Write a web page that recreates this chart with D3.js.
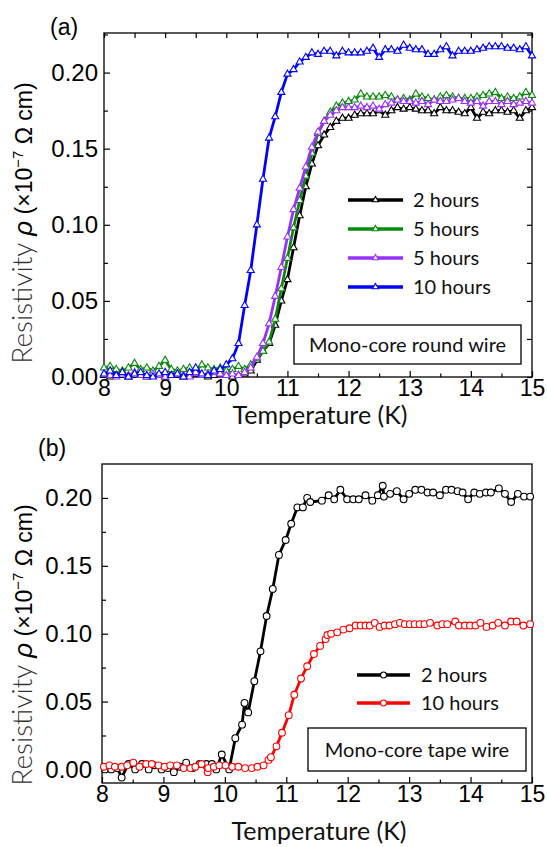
<!DOCTYPE html>
<html><head><meta charset="utf-8">
<script src="https://cdn.jsdelivr.net/npm/d3@7"></script>
<style>body{margin:0;background:#fff}</style>
</head><body><svg id="c" width="547" height="847"></svg>
<script>
// ---------- DATA ----------
const tempsA = [8.0,8.1,8.2,8.3,8.4,8.5,8.6,8.7,8.8,8.9,9.0,9.1,9.2,9.3,9.4,9.5,9.6,9.7,9.8,9.9,
  10.0,10.1,10.2,10.3,10.4,10.5,10.6,10.7,10.8,10.9,11.0,11.1,11.2,11.3,11.4,11.5,11.6,11.7,11.8,11.9,
  12.0,12.1,12.2,12.3,12.4,12.5,12.6,12.7,12.8,12.9,13.0,13.1,13.2,13.3,13.4,13.5,13.6,13.7,13.8,13.9,
  14.0,14.1,14.2,14.3,14.4,14.5,14.6,14.7,14.8,14.9,15.0];
const rhoA_2h = [0.001,0.000,0.002,0.001,0.000,0.001,0.002,0.000,0.001,0.001,0.000,0.002,0.001,0.000,0.001,0.002,0.001,0.000,0.001,0.002,
  0.001,0.000,0.001,0.002,0.004,0.011,0.017,0.022,0.034,0.050,0.064,0.085,0.106,0.125,0.140,0.152,0.159,0.164,0.168,0.170,
  0.170,0.172,0.173,0.173,0.173,0.175,0.172,0.175,0.177,0.176,0.177,0.176,0.175,0.175,0.173,0.177,0.175,0.175,0.174,0.173,
  0.177,0.170,0.174,0.173,0.175,0.175,0.174,0.175,0.170,0.175,0.177];
const rhoA_5hG = [0.006,0.007,0.005,0.004,0.006,0.009,0.005,0.006,0.004,0.007,0.011,0.005,0.004,0.005,0.006,0.004,0.008,0.006,0.005,0.006,
  0.004,0.005,0.007,0.005,0.008,0.012,0.017,0.023,0.038,0.058,0.078,0.098,0.116,0.132,0.147,0.160,0.168,0.174,0.178,0.180,
  0.181,0.182,0.186,0.184,0.184,0.184,0.185,0.184,0.182,0.183,0.182,0.186,0.184,0.183,0.182,0.184,0.185,0.184,0.183,0.183,
  0.183,0.184,0.185,0.186,0.187,0.183,0.184,0.183,0.184,0.187,0.185];
const rhoA_5hP = [0.002,0.001,0.000,0.002,0.001,0.003,0.001,0.000,0.002,0.001,0.000,0.001,0.002,0.001,0.000,0.003,0.001,0.002,0.003,0.002,
  0.001,0.002,0.001,0.003,0.006,0.013,0.022,0.035,0.053,0.072,0.092,0.110,0.124,0.138,0.151,0.161,0.168,0.172,0.175,0.177,
  0.177,0.177,0.178,0.177,0.178,0.176,0.179,0.180,0.182,0.181,0.181,0.180,0.181,0.179,0.182,0.181,0.181,0.182,0.183,0.181,
  0.180,0.181,0.178,0.181,0.181,0.179,0.181,0.179,0.180,0.181,0.180];
const rhoA_10h = [0.002,0.004,0.001,0.003,0.000,0.002,0.003,0.001,0.000,0.002,0.003,0.001,0.002,0.000,0.003,0.006,0.002,0.001,0.004,0.005,
  0.008,0.012,0.022,0.047,0.070,0.100,0.130,0.157,0.171,0.187,0.199,0.202,0.207,0.210,0.213,0.212,0.214,0.214,0.211,0.214,
  0.213,0.213,0.213,0.214,0.216,0.210,0.215,0.215,0.214,0.218,0.216,0.215,0.215,0.212,0.212,0.215,0.217,0.211,0.214,0.214,
  0.214,0.215,0.216,0.217,0.217,0.217,0.216,0.216,0.215,0.217,0.211];

const tempsB_2h = [8.05,8.15,8.25,8.32,8.43,8.54,8.65,8.76,8.86,8.97,
  9.07,9.17,9.27,9.37,9.48,9.59,9.70,9.79,9.86,9.95,
  10.07,10.17,10.28,10.32,10.38,10.48,10.58,10.68,10.78,10.88,10.99,
  11.08,11.18,11.27,11.34,11.39,11.58,11.69,11.78,11.88,11.99,
  12.09,12.18,12.29,12.40,12.49,12.57,12.59,12.69,12.80,12.91,
  13.00,13.10,13.20,13.30,13.39,13.50,13.60,13.69,13.79,13.87,13.96,
  14.06,14.15,14.25,14.33,14.46,14.56,14.66,14.77,14.87,14.97];
const rhoB_2h = [0.000,0.000,0.001,-0.006,0.004,0.000,0.004,0.000,0.003,0.000,
  0.001,-0.002,0.002,0.005,0.001,0.004,0.004,0.004,0.000,0.011,
  0.000,0.023,0.033,0.049,0.042,0.065,0.087,0.113,0.133,0.158,0.169,
  0.181,0.193,0.193,0.200,0.197,0.198,0.202,0.199,0.206,0.199,
  0.199,0.199,0.202,0.198,0.202,0.209,0.201,0.203,0.205,0.199,
  0.203,0.206,0.206,0.204,0.204,0.202,0.206,0.206,0.205,0.204,0.199,
  0.204,0.203,0.204,0.204,0.207,0.203,0.197,0.203,0.201,0.201];
const tempsB_10h = [8.03,8.12,8.21,8.32,8.41,8.51,8.61,8.72,8.81,8.92,
  9.02,9.11,9.22,9.33,9.44,9.52,9.62,9.72,9.73,9.82,9.91,
  10.01,10.12,10.22,10.33,10.44,10.53,10.63,10.71,10.75,10.84,10.93,
  11.04,11.13,11.24,11.34,11.45,11.55,11.64,11.67,11.73,11.83,11.93,
  12.03,12.13,12.21,12.29,12.36,12.44,12.52,12.60,12.68,12.77,12.85,12.93,
  13.01,13.09,13.17,13.25,13.34,13.46,13.54,13.62,13.75,13.81,13.91,13.99,
  14.08,14.16,14.26,14.36,14.45,14.56,14.66,14.75,14.86,14.97];
const rhoB_10h = [0.002,0.003,0.002,0.002,0.003,0.005,0.002,0.004,0.004,0.003,
  0.002,0.003,0.003,0.001,0.001,0.002,0.004,-0.002,0.001,0.002,0.003,
  0.003,0.002,0.002,0.001,0.001,0.002,0.003,0.007,0.009,0.017,0.027,
  0.040,0.055,0.067,0.076,0.085,0.091,0.096,0.099,0.100,0.101,0.103,
  0.104,0.106,0.106,0.106,0.106,0.108,0.105,0.106,0.106,0.107,0.108,0.107,
  0.107,0.107,0.107,0.107,0.108,0.106,0.107,0.107,0.109,0.106,0.106,0.106,
  0.106,0.108,0.105,0.106,0.108,0.106,0.109,0.109,0.106,0.107];

const legendA = ["2 hours","5 hours","5 hours","10 hours"];
const legendB = ["2 hours","10 hours"];
const xTickVals = [8,9,10,11,12,13,14,15];
const xMinorVals = [8.5,9.5,10.5,11.5,12.5,13.5,14.5];
const yTickVals = [0,0.05,0.10,0.15,0.20];
const yMinorVals = [0.025,0.075,0.125,0.175,0.225];
const yMinorValsB = [0.025,0.075,0.125,0.175];
const panelTags = ["(a)","(b)"];
const boxTexts = ["Mono-core round wire","Mono-core tape wire"];
const xTitle = "Temperature (K)";

// ---------- DRAW ----------
const svg = d3.select("#c");
const NUMF = "'Liberation Sans', Arial, sans-serif";
const TXTF = "Lato, 'Open Sans', sans-serif";
const fmt = d3.format(".2f");

function drawPanel(o) {
  const x = d3.scaleLinear().domain([8,15]).range([o.left,o.right]);
  const y = d3.scaleLinear().domain(o.ydom).range([o.bottom,o.top]);
  const g = svg.append("g");

  const styleAxis = (sel) => {
    sel.select(".domain").remove();
    sel.selectAll("line").attr("stroke","#000").attr("stroke-width",1.2);
    sel.selectAll("text").attr("font-family",NUMF).attr("font-size",23).attr("fill","#000");
  };
  // bottom
  g.append("g").attr("transform",`translate(0,${o.bottom})`)
    .call(d3.axisBottom(x).tickValues(xTickVals).tickSize(-6).tickPadding(3).tickFormat(d3.format("d"))).call(styleAxis);
  g.append("g").attr("transform",`translate(0,${o.bottom})`)
    .call(d3.axisBottom(x).tickValues(xMinorVals).tickSize(-3.5).tickFormat("")).call(styleAxis);
  // left
  g.append("g").attr("transform",`translate(${o.left},0)`)
    .call(d3.axisLeft(y).tickValues(yTickVals).tickSize(-6).tickPadding(o.ypad).tickFormat(fmt)).call(styleAxis)
    .selectAll("text").attr("font-size",24);
  g.append("g").attr("transform",`translate(${o.left},0)`)
    .call(d3.axisLeft(y).tickValues(o.yMinor).tickSize(-4).tickFormat("")).call(styleAxis);
  if (o.mirror) {
    g.append("g").attr("transform",`translate(0,${o.top})`)
      .call(d3.axisTop(x).tickValues(xTickVals.concat(xMinorVals)).tickSize(-5).tickFormat("")).call(styleAxis);
    g.append("g").attr("transform",`translate(${o.right},0)`)
      .call(d3.axisRight(y).tickValues(yTickVals.concat(o.yMinor)).tickSize(-5).tickFormat("")).call(styleAxis);
  }
  // frame
  g.append("rect").attr("x",o.left).attr("y",o.top).attr("width",o.right-o.left).attr("height",o.bottom-o.top)
    .attr("fill","none").attr("stroke","#000").attr("stroke-width",1.3);

  // series
  const line = d3.line().x(d=>x(d[0])).y(d=>y(d[1]));
  o.series.forEach(s => {
    const pts = s.t.map((t,i)=>[t,s.v[i]]);
    g.append("path").datum(pts).attr("d",line).attr("fill","none")
      .attr("stroke",s.color).attr("stroke-width",2.8).attr("stroke-linejoin","round");
    const sym = d3.symbol().type(o.symbol).size(o.symSize);
    g.append("g").selectAll("path").data(pts).join("path")
      .attr("transform",d=>`translate(${x(d[0])},${y(d[1])})`)
      .attr("d",sym).attr("fill","#fff").attr("stroke",s.color).attr("stroke-width",1.1);
  });

  // legend
  o.series.forEach((s,i) => {
    const ly = o.leg.y + i*o.leg.dy;
    g.append("line").attr("x1",o.leg.x1).attr("x2",o.leg.x2).attr("y1",ly).attr("y2",ly)
      .attr("stroke",s.color).attr("stroke-width",3.5);
    g.append("path").attr("transform",`translate(${(o.leg.x1+o.leg.x2)/2},${ly})`)
      .attr("d",d3.symbol().type(o.symbol).size(o.symSize*0.75)).attr("fill","#fff").attr("stroke",s.color).attr("stroke-width",1.1);
    g.append("text").attr("x",o.leg.tx).attr("y",ly+7).text(s.name)
      .attr("font-family",TXTF).attr("font-size",20).attr("fill","#111");
  });

  // annotation box
  g.append("rect").attr("x",o.box[0]).attr("y",o.box[1]).attr("width",o.box[2]-o.box[0]).attr("height",o.box[3]-o.box[1])
    .attr("fill","#fff").attr("stroke","#000").attr("stroke-width",1.3);
  g.append("text").attr("x",(o.box[0]+o.box[2])/2).attr("y",(o.box[1]+o.box[3])/2+7).attr("text-anchor","middle")
    .text(o.boxText).attr("font-family",TXTF).attr("font-size",20).attr("fill","#111");

  // panel tag
  g.append("text").attr("x",o.tag[0]).attr("y",o.tag[1]).text(o.tagText)
    .attr("font-family",NUMF).attr("font-size",23).attr("fill","#000");

  // x title
  g.append("text").attr("x",(o.left+o.right)/2+2).attr("y",o.xtY).attr("text-anchor","middle").text(xTitle)
    .attr("font-family",TXTF).attr("font-size",25).attr("fill","#111");

  // y title
  const yt = g.append("text").attr("transform",`translate(${o.ytX},${o.ytY}) rotate(-90)`).attr("text-anchor","middle");
  yt.append("tspan").text("Resistivity ").attr("font-family",TXTF).attr("font-weight",300).attr("font-size",28).attr("fill","#333");
  yt.append("tspan").text("ρ").attr("font-family",NUMF).attr("font-style","italic").attr("font-size",26).attr("fill","#000");
  yt.append("tspan").text(" (×10").attr("font-family",NUMF).attr("font-size",23).attr("fill","#000");
  yt.append("tspan").text("−7").attr("font-family",NUMF).attr("font-size",15).attr("dy",-9).attr("fill","#000");
  yt.append("tspan").text(" Ω cm)").attr("font-family",NUMF).attr("font-size",23).attr("dy",9).attr("fill","#000");
}

drawPanel({
  left:104, right:532, top:33, bottom:377, ydom:[0,0.226], ypad:6, yMinor:yMinorVals, mirror:true,
  symbol:d3.symbolTriangle, symSize:22,
  series:[
    {t:tempsA, v:rhoA_2h, color:"#000000", name:legendA[0]},
    {t:tempsA, v:rhoA_5hG, color:"#0a8a0a", name:legendA[1]},
    {t:tempsA, v:rhoA_5hP, color:"#9a30ff", name:legendA[2]},
    {t:tempsA, v:rhoA_10h, color:"#0000ff", name:legendA[3]}
  ],
  leg:{x1:348, x2:403, tx:413, y:200, dy:29},
  box:[294,325,521,364], boxText:boxTexts[0],
  tag:[50,35], tagText:panelTags[0], xtY:424, ytX:32, ytY:223
});

drawPanel({
  left:102, right:532, top:464, bottom:783, ydom:[-0.01,0.225], ypad:10, yMinor:yMinorValsB, mirror:false,
  symbol:d3.symbolCircle, symSize:36,
  series:[
    {t:tempsB_2h, v:rhoB_2h, color:"#000000", name:legendB[0]},
    {t:tempsB_10h, v:rhoB_10h, color:"#ff0000", name:legendB[1]}
  ],
  leg:{x1:357, x2:410, tx:421, y:675, dy:28},
  box:[308,728,526,771], boxText:boxTexts[1],
  tag:[38,456], tagText:panelTags[1], xtY:840, ytX:32, ytY:645
});
</script></body></html>
